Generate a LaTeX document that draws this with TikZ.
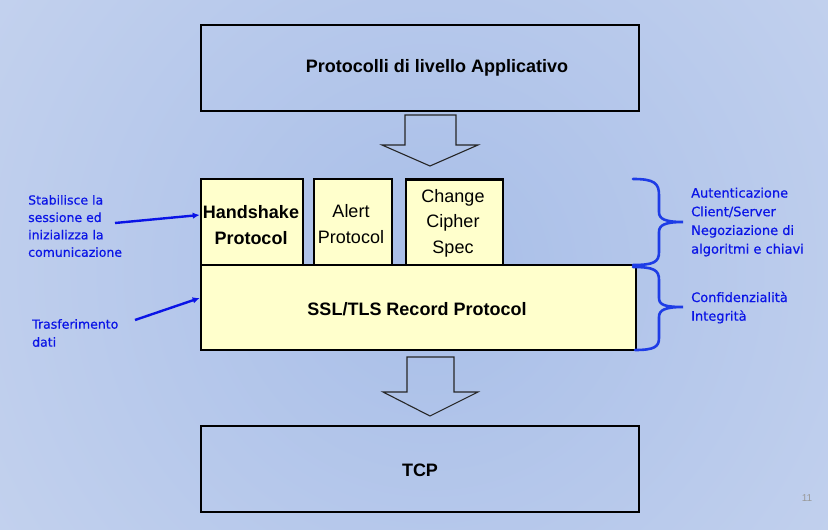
\documentclass[tikz,border=0pt]{standalone}
\usepackage{fontspec}
\setmainfont{Liberation Sans}
\newfontfamily\comicf[FakeBold=0.6]{DejaVu Sans}
\usetikzlibrary{arrows.meta}
\definecolor{bgin}{RGB}{168,190,232}
\definecolor{bgout}{RGB}{214,223,242}
\definecolor{yel}{RGB}{255,255,204}
\definecolor{noteblue}{RGB}{10,20,230}
\definecolor{braceblue}{RGB}{30,60,230}
\tikzset{
  layerbox/.style={draw=black, line width=2.6pt, inner sep=0pt},
  yelbox/.style={layerbox, fill=yel},
  boxtxt/.style={inner sep=0pt, align=center, font=\fontsize{18}{25.5}\selectfont},
  boldtxt/.style={boxtxt, font=\fontsize{18}{26}\selectfont\bfseries},
  blockarrow/.style={draw=black!85, line width=1.1pt},
  note/.style={inner sep=0pt, align=left, text=noteblue},
  notearrow/.style={draw=noteblue, line width=2.4pt, -{Latex[length=7pt,width=6.5pt]}},
  bracestyle/.style={draw=braceblue, line width=2.6pt, line cap=round},
}
\begin{document}
\begin{tikzpicture}[x=1pt, y=-1pt]
\useasboundingbox (0,0) rectangle (828,530);
\begin{scope}
\clip (0,0) rectangle (828,530);
\shade[inner color=bgin, outer color=bgout] (430,270) circle (880);
\end{scope}

% layer boxes
\node[layerbox, minimum width=438pt, minimum height=86pt] (app) at (420,68) {};
\node[boldtxt] (apptxt) at (437,68) {Protocolli di livello Applicativo};

\node[yelbox, minimum width=102pt, minimum height=86pt] (hs) at (252,222) {};
\node[boldtxt] (hstxt) at (251,225) {Handshake\\Protocol};

\node[yelbox, minimum width=78pt, minimum height=86pt] (al) at (353,222) {};
\node[boxtxt] (altxt) at (351,224) {Alert\\Protocol};

\node[yelbox, minimum width=97pt, minimum height=86pt] (ccs) at (454.5,222.5) {};
\node[boxtxt] (ccstxt) at (453,223) {Change\\Cipher\\Spec};

\node[yelbox, minimum width=435pt, minimum height=85pt] (rec) at (418.5,307.5) {};
\node[boldtxt] (rectxt) at (417,309) {SSL/TLS Record Protocol};

\node[layerbox, minimum width=438pt, minimum height=86pt] (tcp) at (420,469) {};
\node[boldtxt] (tcptxt) at (420,470) {TCP};

% block arrows
\draw[blockarrow] (405,115) -- (456,115) -- (456,145) -- (478,145) -- (430,166) -- (382,145) -- (405,145) -- cycle;
\draw[blockarrow] (407,357) -- (454,357) -- (454,392) -- (478,392) -- (430,416) -- (383,392) -- (407,392) -- cycle;

% left notes
\node[note, anchor=west, font=\comicf\fontsize{12.5}{17.4}\selectfont] (n1) at (28,226)
  {Stabilisce la\\sessione ed\\inizializza la\\comunicazione};
\node[note, anchor=west, font=\comicf\fontsize{12.5}{18}\selectfont] (n2) at (32,333)
  {Trasferimento\\dati};
\coordinate (n1t) at (115,223);
\coordinate (n2t) at (135,320);
\draw[notearrow] (n1t) -- ([yshift=7pt]hs.west);
\draw[notearrow] (n2t) -- ([yshift=9.5pt]rec.west);

% right braces
\draw[bracestyle] (633,179) .. controls (654,179) and (659,183) .. (659,195) -- (659,212)
  .. controls (659,219) and (665,222) .. (683,222)
  .. controls (665,222) and (659,225) .. (659,232) -- (659,252)
  .. controls (659,262) and (654,265) .. (633,265);
\draw[bracestyle] (633,267) .. controls (654,267) and (659,270) .. (659,280) -- (659,298)
  .. controls (659,305) and (665,307) .. (683,307)
  .. controls (665,307) and (659,310) .. (659,317) -- (659,338)
  .. controls (659,347) and (654,350) .. (635,350);

% right notes
\node[note, anchor=west, font=\comicf\fontsize{13}{18.7}\selectfont] (n3) at (691,222)
  {Autenticazione\\Client/Server\\Negoziazione di\\algoritmi e chiavi};
\node[note, anchor=west, font=\comicf\fontsize{13}{18.7}\selectfont] (n4) at (691,307.5)
  {Confidenzialità\\Integrità};

% page number
\node[inner sep=0pt, text=black!40, font=\fontsize{10}{12}\selectfont] (pg) at (807,498) {11};
\end{tikzpicture}
\end{document}
